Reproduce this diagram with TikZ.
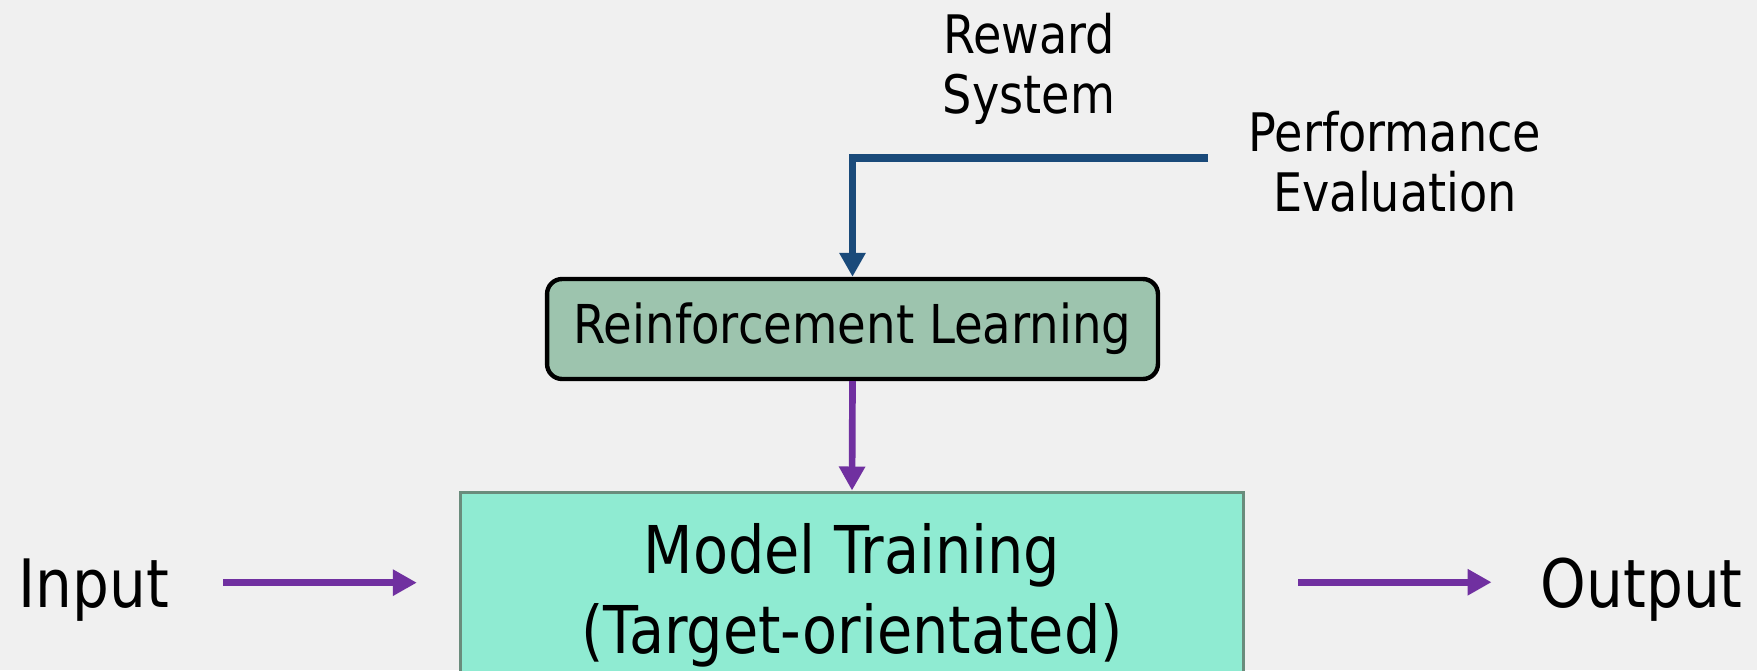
\documentclass[tikz,border=0pt]{standalone}
\usepackage{fontspec}
\setmainfont{DejaVu Sans}[FakeStretch=0.87]
\usetikzlibrary{arrows.meta}

\definecolor{bgcol}{HTML}{F0F0F0}
\definecolor{rewardblue}{HTML}{1A4A7A}
\definecolor{flowpurple}{HTML}{7030A0}
\definecolor{rlgreen}{HTML}{9DC4AE}
\definecolor{mtgreen}{HTML}{8FEBD2}
\definecolor{mtedge}{HTML}{6A8C7C}

\tikzset{
	lbl/.style={inner sep=0pt, align=center, font=\fontsize{30.2}{34}\selectfont},
	io/.style={inner sep=0pt, text depth=0pt, font=\fontsize{38}{46}\selectfont},
	rlbox/.style={draw=black, fill=rlgreen, line width=2.5pt, rounded corners=0.3cm,
		minimum width=12.22cm, minimum height=2cm, inner sep=0pt,
		font=\fontsize{30.5}{34}\selectfont},
	mtbox/.style={draw=mtedge, fill=mtgreen, line width=2pt,
		minimum width=15.66cm, minimum height=4.12cm, inner sep=0pt, align=center,
		font=\fontsize{37.5}{45.8}\selectfont},
	flow/.style={draw=flowpurple, line width=3.8pt, -{Triangle[length=0.48cm, width=0.5cm]}},
	reward/.style={draw=rewardblue, line width=4pt, -{Triangle[length=0.48cm, width=0.5cm]}},
}

\begin{document}
\begin{tikzpicture}[x=0.02cm, y=-0.02cm]
	%%%%% START %%%%%
	
	\fill[bgcol] (0, 0) rectangle (1757, 670);
	\useasboundingbox (0, 0) rectangle (1757, 670);
	\clip (0, 0) rectangle (1757, 670);
	
	\node[lbl, anchor=north] (rs) at (1029, 13) {Reward\\System};
	\node[lbl, anchor=north] (pe) at (1395, 111) {Performance\\Evaluation};
	
	\node[rlbox] (rl) at (852.5, 329) {Reinforcement Learning};
	\node[mtbox, anchor=north] (mt) at (852, 490.5) {Model Training\\(Target-orientated)};
	
	\node[io, anchor=base west] (in) at (18, 607) {Input};
	\node[io, anchor=base east] (out) at (1743, 607) {Output};
	
	\coordinate (pe-end) at (1208, 158);
	\draw[reward] (pe-end) -| (rl.north);
	\draw[flow] (rl.south) -- (mt.north);
	
	\draw[flow, shorten <=1.08cm, shorten >=0.84cm] (in.east) -- (in.east -| mt.west);
	\draw[flow, shorten <=1.06cm, shorten >=0.98cm] (out.west -| mt.east) -- (out.west);
	
	%%%%% END %%%%%
\end{tikzpicture}
\end{document}
